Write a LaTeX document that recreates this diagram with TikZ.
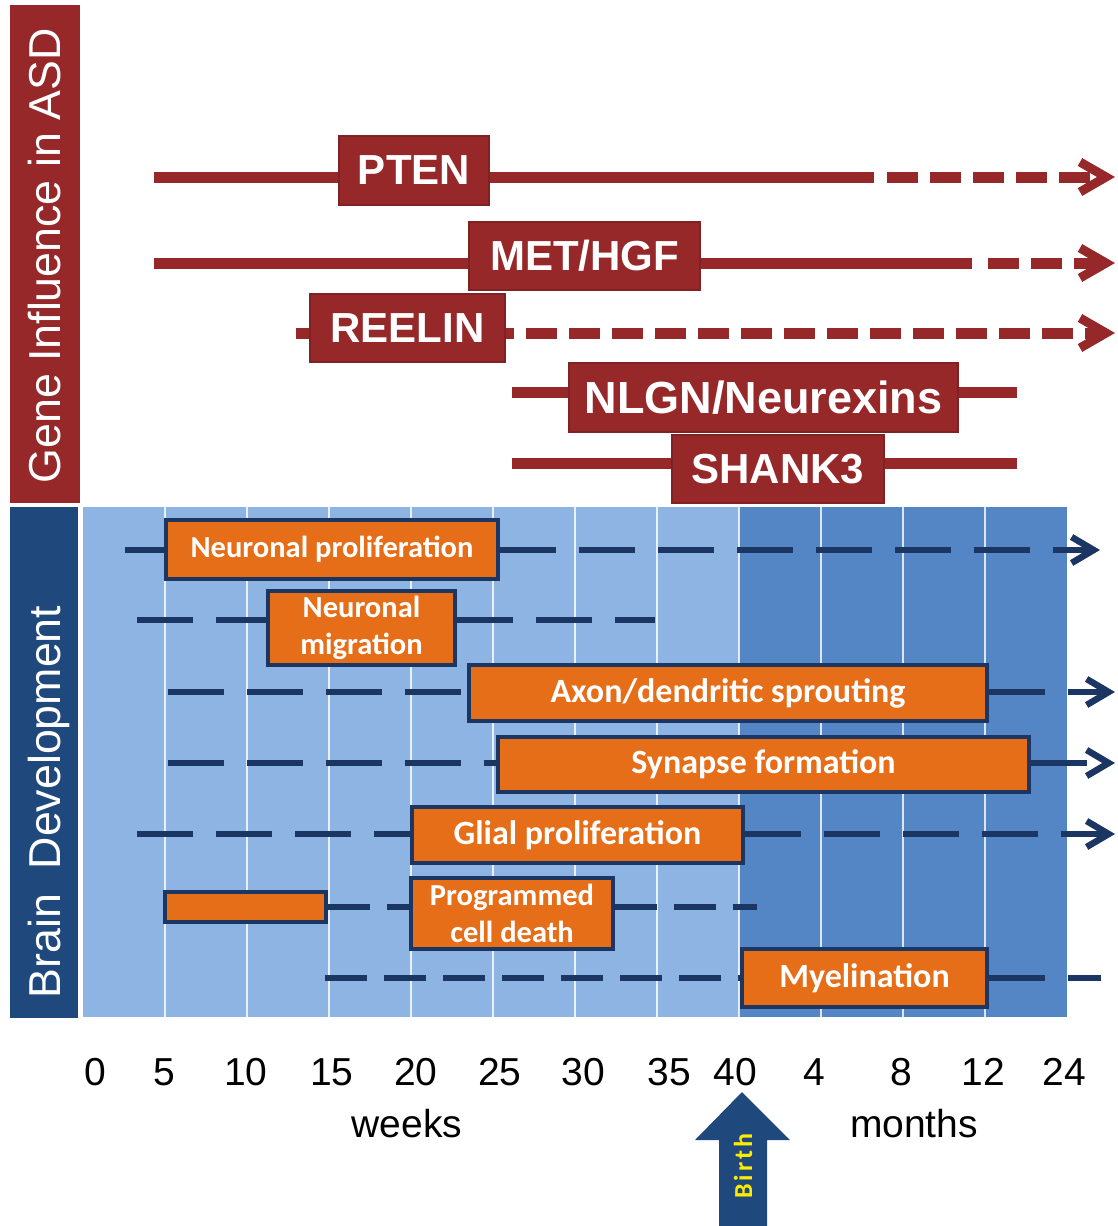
\documentclass[tikz,border=0pt]{standalone}
\usepackage{fontspec}
\setmainfont{Liberation Sans}
\newfontfamily\calibri{Carlito}
\usepackage{tikz}
\usetikzlibrary{arrows.meta,positioning}
\definecolor{genered}{RGB}{150,40,42}
\definecolor{devblue}{RGB}{31,73,125}
\definecolor{weekblue}{RGB}{142,180,227}
\definecolor{monthblue}{RGB}{84,134,198}
\definecolor{devorange}{RGB}{230,110,25}
\definecolor{devnavy}{RGB}{28,54,100}
\definecolor{birthyellow}{RGB}{255,235,0}
\tikzset{
    %Define arrow tips
    genetip/.tip={Straight Barb[length=26pt,width=30pt,line width=9pt]},
    devtip/.tip={Straight Barb[length=22pt,width=26pt,line width=6.5pt]},
    %Define style for side labels
    sidelabel/.style={
           rotate=90,
           anchor=base,
           inner sep=0pt,
           text=white,
           font=\fontsize{44.7}{50}\selectfont},
    %Define style for gene boxes
    genebox/.style={
           rectangle,
           fill=genered,
           draw=genered!85!black,
           line width=1.5pt,
           inner sep=0pt,
           text=white,
           font=\bfseries\fontsize{42}{48}\selectfont,
           text centered},
    %Define style for development boxes
    devbox/.style={
           rectangle,
           fill=devorange,
           draw=devnavy,
           line width=3.5pt,
           inner sep=0pt,
           text=white,
           align=center,
           font=\calibri\bfseries\fontsize{34}{40}\selectfont},
    smalltext/.style={
           font=\calibri\bfseries\fontsize{30.5}{37}\selectfont},
    ticklabel/.style={
           anchor=base,
           inner sep=0pt,
           font=\fontsize{39}{44}\selectfont},
    birthlabel/.style={
           rotate=90,
           inner sep=0pt,
           text=birthyellow,
           font=\calibri\bfseries\fontsize{26}{30}\selectfont\addfontfeature{LetterSpace=12}},
    % Define line styles
    geneline/.style={
           draw=genered,
           line width=11pt},
    genedash/.style={
           geneline,
           dash pattern=on 31pt off 12pt,
           -genetip},
    devline/.style={
           draw=devnavy,
           line width=6.5pt},
    devdash/.style={
           devline,
           dash pattern=on 56pt off 23pt},
    devdashshort/.style={
           devline,
           dash pattern=on 42pt off 17pt},
    gridline/.style={
           draw=white,
           opacity=.8,
           line width=2pt}
}

\begin{document}
\begin{tikzpicture}[x=1pt,y=-1pt]
\useasboundingbox (0,0) rectangle (1118,1226);
 %side bars
\fill[genered] (10,5) rectangle (80,503);
\fill[devblue] (10,507) rectangle (78,1018);
\node[sidelabel] (gene) at (60,256) {Gene Influence in ASD};
\node[sidelabel] (brain) at (60,802) {Brain\ \ Development};
 %chart
\fill[weekblue] (83,507) rectangle (739,1017);
\fill[monthblue] (739,507) rectangle (1067,1017);
\foreach \k in {1,...,11}
  \draw[gridline] (83+82*\k,507) -- (83+82*\k,1017);
 %axis
\foreach \lab/\x in {0/95,5/164,10/246,15/332,20/416,25/500,30/583,35/669,40/735,4/814,8/901,12/983,24/1064}
  \node[ticklabel] (tick-\lab) at (\x,1085) {\lab};
\node[ticklabel] (weeks) at (407,1137) {weeks};
\node[ticklabel] (months) at (914,1137) {months};
\fill[devblue] (742,1092) -- (790,1140) -- (767,1140) -- (767,1226)
  -- (719,1226) -- (719,1140) -- (695,1140) -- cycle;
\node[birthlabel] (birth) at (743,1166) {Birth};
 %gene nodes
\node[genebox, minimum width=150pt, minimum height=69pt] (pten) at (414,170.5) {PTEN};
\node[genebox, minimum width=231pt, minimum height=68pt] (met) at (584.5,256) {MET/HGF};
\node[genebox, minimum width=195pt, minimum height=68pt] (reelin) at (407.5,328) {REELIN};
\node[genebox, minimum width=389pt, minimum height=69pt, font=\bfseries\fontsize{45}{50}\selectfont] (nlgn) at (763.5,397.5) {NLGN/Neurexins};
\node[genebox, minimum width=212pt, minimum height=68pt] (shank) at (778,469) {SHANK3};
\coordinate (pten-s) at (154,177);
\coordinate (pten-m) at (874,177);
\coordinate (pten-d) at (887,177);
\coordinate (pten-e) at (1115,177);
\coordinate (met-s) at (154,263);
\coordinate (met-m) at (972,263);
\coordinate (met-d) at (988,263);
\coordinate (met-e) at (1115,263);
\coordinate (reelin-s) at (296,333);
\coordinate (reelin-e) at (1115,333);
\coordinate (nlgn-s) at (512,392);
\coordinate (nlgn-e) at (1017,392);
\coordinate (shank-s) at (512,463);
\coordinate (shank-e) at (1017,463);
 \path[geneline]
   (pten-s) edge (pten-s -| pten.west)
   (pten-m -| pten.east) edge (pten-m)
   (met-s) edge (met-s -| met.west)
   (met-m -| met.east) edge (met-m)
   (reelin-s) edge (reelin-s -| reelin.west)
   (nlgn-s) edge (nlgn-s -| nlgn.west)
   (nlgn-e -| nlgn.east) edge (nlgn-e)
   (shank-s) edge (shank-s -| shank.west)
   (shank-e -| shank.east) edge (shank-e);
\draw[genedash] (pten-d) -- (pten-e);
\draw[genedash] (met-d) -- (met-e);
\draw[genedash, dash phase=23pt] (reelin-e -| reelin.east) -- (reelin-e);
 %development nodes
\node[devbox, smalltext, minimum width=332pt, minimum height=59pt] (prolif) at (332,549.5) {Neuronal proliferation};
\node[devbox, smalltext, minimum width=187pt, minimum height=74pt] (migr) at (361.5,628) {Neuronal\\migration};
\node[devbox, minimum width=518pt, minimum height=56pt] (axon) at (728,693) {Axon/dendritic sprouting};
\node[devbox, minimum width=531pt, minimum height=55pt] (synapse) at (763.5,764.5) {Synapse formation};
\node[devbox, minimum width=331pt, minimum height=56pt] (glial) at (577.5,835) {Glial proliferation};
\node[devbox, minimum width=161pt, minimum height=30pt] (death-a) at (245.5,907) {};
\node[devbox, smalltext, minimum width=202pt, minimum height=71pt] (death) at (512,913.5) {Programmed\\cell death};
\node[devbox, minimum width=245pt, minimum height=58pt] (myelin) at (864.5,978) {Myelination};
\coordinate (prolif-s) at (125,550);
\coordinate (prolif-e) at (1100,550);
\coordinate (migr-s) at (137,620);
\coordinate (migr-e) at (655,620);
\coordinate (axon-s) at (168,692);
\coordinate (axon-e) at (1115,692);
\coordinate (synapse-s) at (168,763);
\coordinate (synapse-e) at (1115,763);
\coordinate (glial-s) at (137,834);
\coordinate (glial-e) at (1115,834);
\coordinate (death-e) at (757,907);
\coordinate (myelin-s) at (325,978);
\coordinate (myelin-e) at (1101,978);
\draw[devline] (prolif-s) -- (prolif-s -| prolif.west);
\draw[devdash, -devtip] (prolif-e -| prolif.east) -- (prolif-e);
\draw[devdash] (migr-s) -- (migr-s -| migr.west);
\draw[devdash] (migr-e -| migr.east) -- (migr-e);
\draw[devdash] (axon-s) -- (axon-s -| axon.west);
\draw[devdash, -devtip] (axon-e -| axon.east) -- (axon-e);
\draw[devdash] (synapse-s) -- (synapse-s -| synapse.west);
\draw[devdash, -devtip] (synapse-e -| synapse.east) -- (synapse-e);
\draw[devdash] (glial-s) -- (glial-s -| glial.west);
\draw[devdash, -devtip] (glial-e -| glial.east) -- (glial-e);
\draw[devdashshort] (death-a.east) -- (death-a.east -| death.west);
\draw[devdashshort] (death-e -| death.east) -- (death-e);
\draw[devdashshort] (myelin-s) -- (myelin-s -| myelin.west);
\draw[devdash] (myelin-e -| myelin.east) -- (myelin-e);
\end{tikzpicture}
\end{document}
